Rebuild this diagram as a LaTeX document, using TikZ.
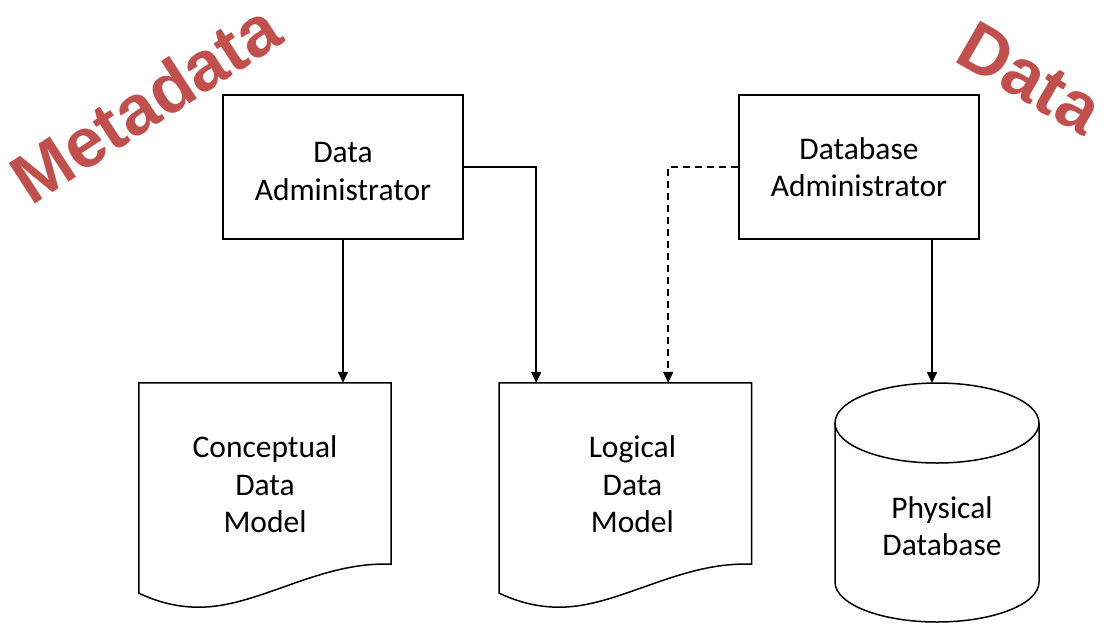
\documentclass[tikz,border=0pt]{standalone}
\usepackage{fontspec}
\setmainfont{Carlito}
\newfontfamily\arialfont{Liberation Sans}
\usetikzlibrary{arrows.meta,positioning}
\definecolor{wordred}{HTML}{C0504D}

% outline of a document shape hung on a node
\newcommand\drawdoc[1]{%
  \draw[outline] ([yshift=-7pt]#1.south west) -- (#1.north west) -- (#1.north east)
    -- ([yshift=22pt]#1.south east)
    .. controls ([xshift=180pt,yshift=25pt]#1.south west) and ([xshift=120pt,yshift=-21pt]#1.south west)
    .. ([xshift=60pt,yshift=-21pt]#1.south west)
    .. controls ([xshift=35pt,yshift=-21pt]#1.south west) and ([xshift=15pt,yshift=-14pt]#1.south west)
    .. cycle;}
% outline of a database drum hung on a node
\newcommand\drawdrum[1]{%
  \draw[outline] ([yshift=-40pt]#1.north) ellipse [x radius=102pt, y radius=40pt];
  \draw[outline] ([xshift=-102pt,yshift=-40pt]#1.north) -- ++(0,159)
    arc [start angle=180, end angle=360, x radius=102pt, y radius=40pt] -- ++(0,-159);}

\begin{document}
\begin{tikzpicture}
    [x=1pt, y=-1pt,
    font=\fontsize{31.5}{37.5}\selectfont,
    block/.style={rectangle, draw=black, line width=1.5pt,
    minimum width=240pt, minimum height=144pt, align=center},
    docbox/.style={rectangle, minimum width=252pt,
    minimum height=203pt, align=center},
    drum/.style={rectangle, minimum width=204pt,
    minimum height=286pt, align=center, anchor=north},
    outline/.style={draw=black, line width=1.5pt},
    line/.style={draw, line width=1.6pt, -{Triangle[length=11pt,width=10pt]}},
    wordart/.style={text=wordred, inner sep=0pt,
    font=\arialfont\bfseries\fontsize{70}{84}\selectfont}]

    \useasboundingbox (0,0) rectangle (1104,633);

    \node [block] (da) at (343,167) {\rule{0pt}{29pt}Data\\Administrator};
    \node [block] (dba) at (859,167) {Database\\Administrator};

    \node [docbox] (cdm) at (265,484.5) {Conceptual\\Data\\Model};
    \node [docbox] (ldm) [right=108pt of cdm] {\hspace*{14pt}Logical\\\hspace*{14pt}Data\\\hspace*{14pt}Model};
    \node [drum] (pdb) at (937,383) {\hspace*{10pt}Physical\\\hspace*{10pt}Database};

    \drawdoc{cdm}
    \drawdoc{ldm}
    \drawdrum{pdb}

    \coordinate (ldm in) at ([xshift=37pt]ldm.north west);
    \coordinate (ldm dash) at ([xshift=169pt]ldm.north west);
    \coordinate (pdb in) at ([xshift=-5pt]pdb.north);

    \begin{scope}[every path/.style=line]
        \path (da.south) -- (da.south |- cdm.north);
        \path (da.east) -| (ldm in);
        \path (dba.south -| pdb in) -- (pdb in);
        \path [dash pattern=on 7pt off 5pt] (dba.west) -| (ldm dash);
    \end{scope}

    \node [wordart, rotate=33] (meta) at (145,103) {Metadata};
    \node [wordart, rotate=-30] (data) at (1030,78) {Data};
\end{tikzpicture}
\end{document}
